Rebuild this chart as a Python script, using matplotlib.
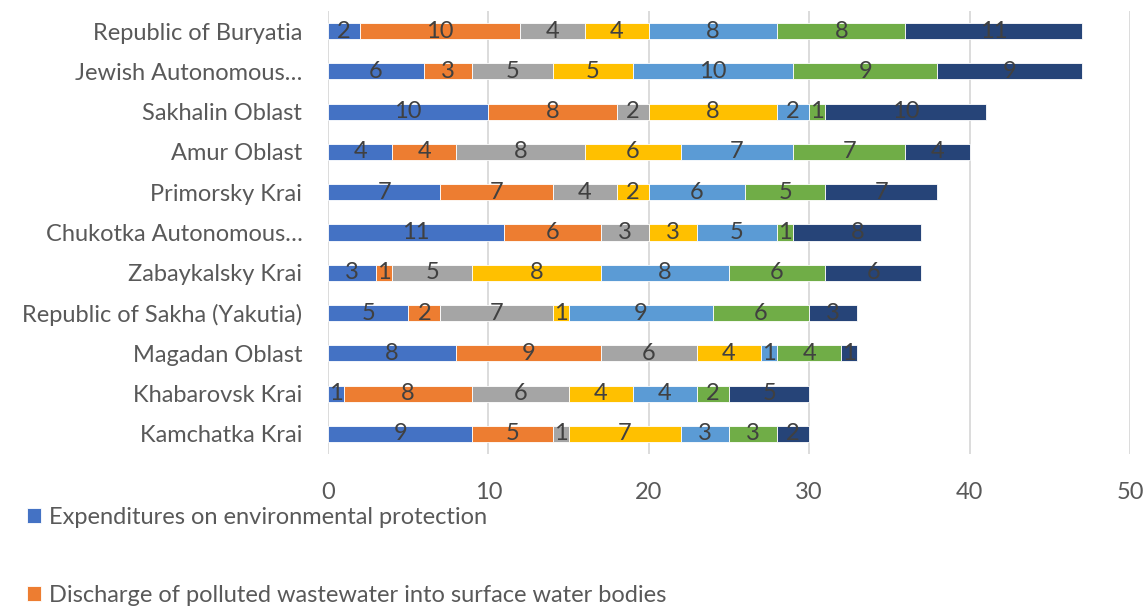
import matplotlib
matplotlib.use("Agg")
import matplotlib.pyplot as plt
import numpy as np

plt.rcParams['font.family'] = ['Lato', 'DejaVu Sans']

categories = ["Kamchatka Krai", "Khabarovsk Krai", "Magadan Oblast",
              "Republic of Sakha (Yakutia)", "Zabaykalsky Krai",
              "Chukotka Autonomous…", "Primorsky Krai", "Amur Oblast",
              "Sakhalin Oblast", "Jewish Autonomous…", "Republic of Buryatia"]

s1 = [9, 1, 8, 5, 3, 11, 7, 4, 10, 6, 2]
s2 = [5, 8, 9, 2, 1, 6, 7, 4, 8, 3, 10]
s3 = [1, 6, 6, 7, 5, 3, 4, 8, 2, 5, 4]
s4 = [7, 4, 4, 1, 8, 3, 2, 6, 8, 5, 4]
s5 = [3, 4, 1, 9, 8, 5, 6, 7, 2, 10, 8]
s6 = [3, 2, 4, 6, 6, 1, 5, 7, 1, 9, 8]
s7 = [2, 5, 1, 3, 6, 8, 7, 4, 10, 9, 11]

series = [s1, s2, s3, s4, s5, s6, s7]
series_names = ["Expenditures on environmental protection",
                "Discharge of polluted wastewater into surface water bodies",
                "", "", "", "", ""]
colors = ["#4472C4", "#ED7D31", "#A5A5A5", "#FFC000", "#5B9BD5", "#70AD47", "#264478"]

fig = plt.figure(figsize=(11.48, 6.07), dpi=100)
ax = fig.add_axes([0.2857, 0.252, 0.6986, 0.730])

y = np.arange(len(categories))
left = np.zeros(len(categories))
handles = []
for vals, col in zip(series, colors):
    vals = np.array(vals, dtype=float)
    b = ax.barh(y, vals, left=left, height=0.4, color=col,
                edgecolor="white", linewidth=0.6, zorder=3)
    handles.append(b)
    ax.bar_label(b, labels=[str(int(v)) for v in vals], label_type='center',
                 color="#404040", fontsize=17)
    left += vals

ax.set_xlim(0, 50)
ax.set_ylim(-0.5, len(categories) - 0.5)
ax.set_xticks(np.arange(0, 51, 10))
ax.set_yticks(y)
ax.set_yticklabels(categories)
ax.tick_params(axis='both', length=0, labelsize=17, labelcolor="#595959")
ax.tick_params(axis='y', pad=18.5)
ax.tick_params(axis='x', pad=20)
ax.grid(axis='x', color="#D9D9D9", linewidth=1.3, zorder=0)
for sp in ax.spines.values():
    sp.set_visible(False)

fig.legend(handles[:2], series_names[:2], loc='upper left',
           bbox_to_anchor=(0.0235, 0.1645), frameon=False, fontsize=17,
           labelcolor="#595959", handlelength=0.6, handleheight=0.6,
           handletextpad=0.34, labelspacing=2.4, borderaxespad=0,
           borderpad=0)

fig.savefig("out.png", dpi=100)
